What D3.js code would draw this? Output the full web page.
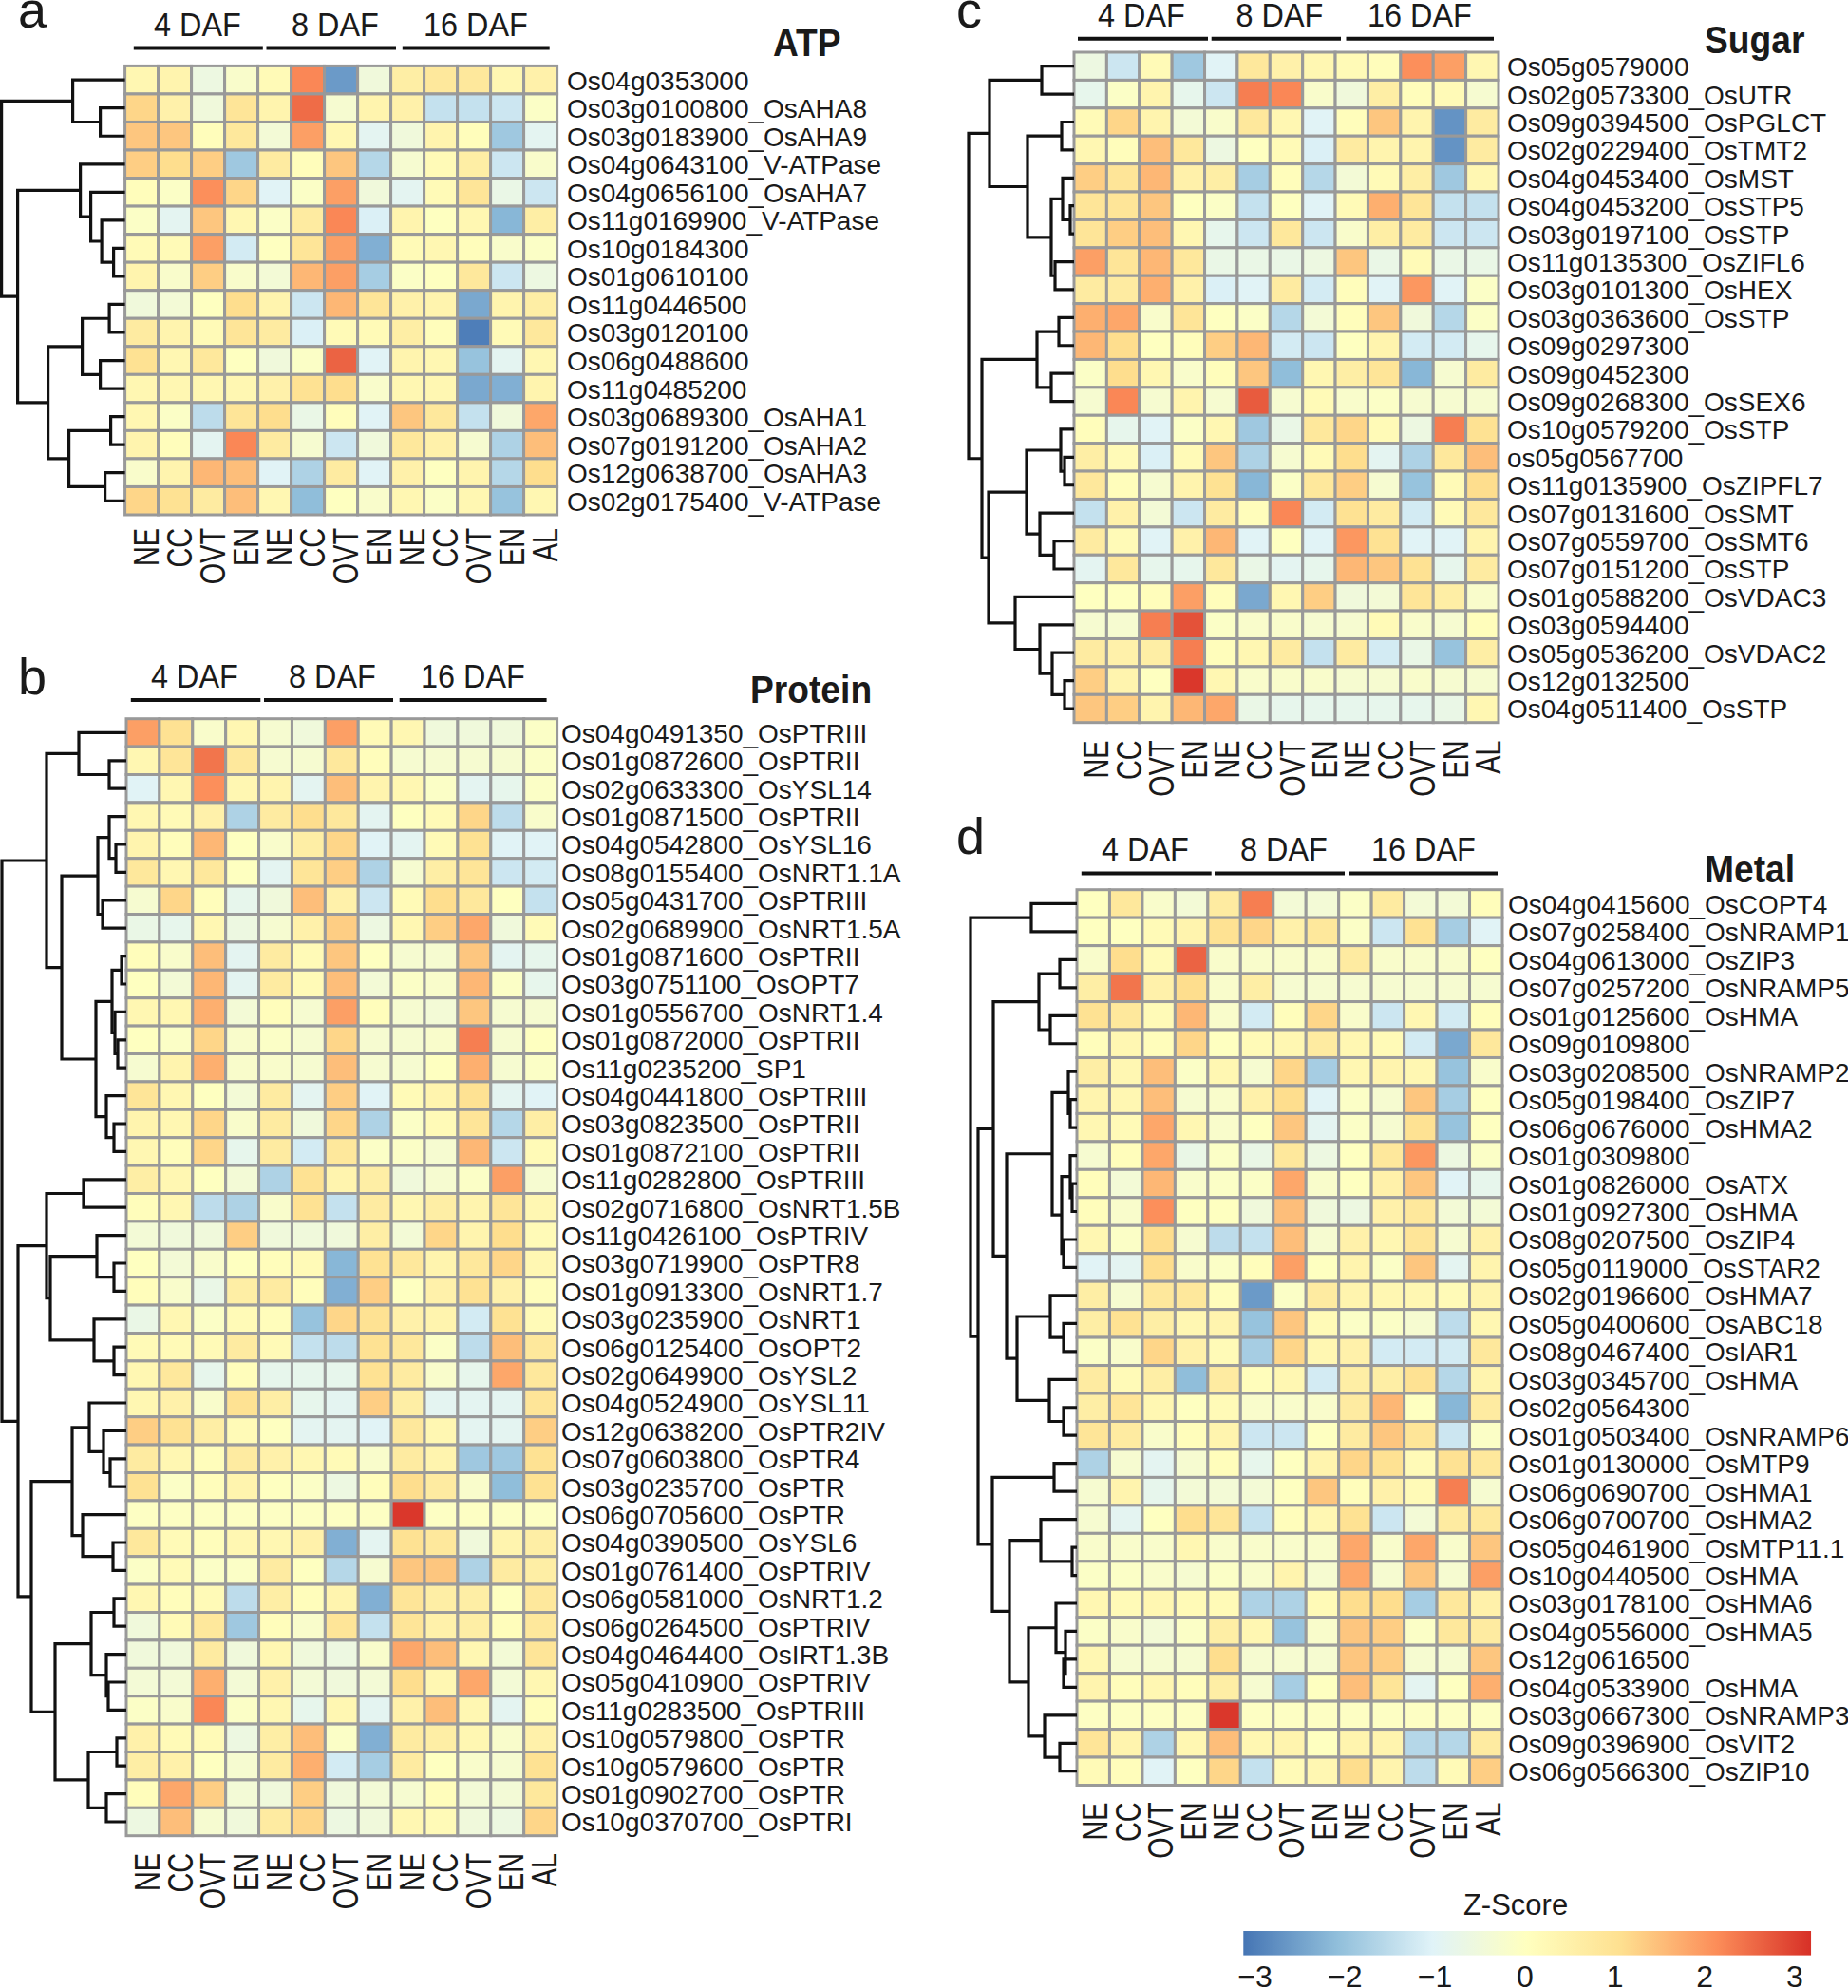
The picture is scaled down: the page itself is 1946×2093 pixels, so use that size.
<!DOCTYPE html>
<html>
<head>
<meta charset="utf-8">
<script src="https://cdn.jsdelivr.net/npm/d3@7"></script>
<style>
  body { margin: 0; background: #fff; }
  text { font-family: "Liberation Sans", Helvetica, Arial, sans-serif; fill: #1a1a1a; }
</style>
</head>
<body>
<svg id="fig" width="1946" height="2093"></svg>
<script>
var tissues = ['NE', 'CC', 'OVT', 'EN', 'NE', 'CC', 'OVT', 'EN', 'NE', 'CC', 'OVT', 'EN', 'AL']
var stages = ['4 DAF', '8 DAF', '16 DAF']
var legendTicks = [-3, -2, -1, 0, 1, 2, 3]
var zStops = [-3.13, -2.08, -1.03, 0.02, 1.07, 2.13, 3.18]
var zColors = ['#4575b4', '#91bfdb', '#e0f3f8', '#ffffbf', '#fee090', '#fc8d59', '#d73027']

var atpGenes = ['Os04g0353000', 'Os03g0100800_OsAHA8', 'Os03g0183900_OsAHA9', 'Os04g0643100_V-ATPase',
  'Os04g0656100_OsAHA7', 'Os11g0169900_V-ATPase', 'Os10g0184300', 'Os01g0610100', 'Os11g0446500',
  'Os03g0120100', 'Os06g0488600', 'Os11g0485200', 'Os03g0689300_OsAHA1', 'Os07g0191200_OsAHA2',
  'Os12g0638700_OsAHA3', 'Os02g0175400_V-ATPase']
var atpValues = [
  [0.3, 0.4, -0.6, -0.2, 0.2, 2.2, -2.6, -0.5, 0.6, 0.8, 0.8, 0.3, 0.5],
  [1.2, 0.5, -0.5, 0.9, 0.4, 2.5, -0.3, 0.4, 0.5, -1.4, -1.4, -1.3, -0.1],
  [1.4, 1.4, 0.1, 0.8, -0.4, 1.9, 0.3, -0.9, -0.5, 0.4, 0.1, -1.9, -0.9],
  [1.3, 1.1, 1.3, -1.9, 0.7, 0.1, 1.4, -1.6, -0.3, 0.2, 0.6, -1.3, -0.2],
  [0.1, -0.1, 2.1, 1.2, -1.0, -0.1, 1.9, -0.5, -0.9, 0.2, 0.9, -0.7, -1.3],
  [-0.1, -0.9, 1.4, 0.3, -0.1, 0.7, 2.2, -1.1, 0.4, 0, 0.3, -2.2, 0.6],
  [0.2, 0.2, 1.9, -1.2, 0, 0.9, 1.9, -2.3, 0.2, 0.3, 0.1, -0.2, -0.1],
  [0.4, -0.2, 1.3, -0.2, -0.4, 1.6, 1.9, -1.8, -0.1, 0, 0.8, -1.3, -0.6],
  [-0.5, -0.4, 0, 1.1, 0.4, -1.3, 1.6, 0.9, 0.5, 0.4, -2.4, 0.4, 0.6],
  [0.7, 0.4, 0.2, 0.9, 0.7, -1.1, 0.2, 0.2, 0.6, 0.1, -3.0, 0.2, 0.8],
  [1.0, 0.3, 0.8, 0, -0.5, -0.1, 2.6, -1.0, 0.4, 0.3, -2.0, -0.9, 0.3],
  [0.3, 0.3, 0.3, 0.3, 0.5, 1.0, 1.1, -0.2, 0.3, 0.3, -2.4, -2.3, 0.4],
  [0.3, -0.1, -1.5, 0.9, 1.1, -0.7, 0.1, -1.0, 1.4, 0.8, -1.4, -0.5, 1.8],
  [0.4, 0.1, -0.9, 2.2, 0.7, -0.3, -1.3, -0.5, 0.8, 0.5, -0.3, -1.7, 1.5],
  [-0.2, 0.4, 1.6, 1.5, -1.0, -1.7, 0.7, -1.0, 0.5, 0, 0.4, -1.6, 1.1],
  [1.2, 1.0, 0.7, 1.5, 0.3, -2.1, 0, -0.2, 0.3, -0.1, 0.3, -2.0, 0.3]
]
// dendrograms: [merge height, left child, right child], 0 is a leaf (next row down)
var atpTree = [130, [55, 0, [26, 0, 0]],
  [113, [47, 0, [36, 0, [24.5, 0, [12, 0, 0]]]],
    [81, [45, [16.5, 0, 0], [26, 0, 0]], [59, [15, 0, 0], [21, 0, 0]]]]]

var proteinGenes = ['Os04g0491350_OsPTRIII', 'Os01g0872600_OsPTRII', 'Os02g0633300_OsYSL14', 'Os01g0871500_OsPTRII',
  'Os04g0542800_OsYSL16', 'Os08g0155400_OsNRT1.1A', 'Os05g0431700_OsPTRIII', 'Os02g0689900_OsNRT1.5A',
  'Os01g0871600_OsPTRII', 'Os03g0751100_OsOPT7', 'Os01g0556700_OsNRT1.4', 'Os01g0872000_OsPTRII',
  'Os11g0235200_SP1', 'Os04g0441800_OsPTRIII', 'Os03g0823500_OsPTRII', 'Os01g0872100_OsPTRII',
  'Os11g0282800_OsPTRIII', 'Os02g0716800_OsNRT1.5B', 'Os11g0426100_OsPTRIV', 'Os03g0719900_OsPTR8',
  'Os01g0913300_OsNRT1.7', 'Os03g0235900_OsNRT1', 'Os06g0125400_OsOPT2', 'Os02g0649900_OsYSL2',
  'Os04g0524900_OsYSL11', 'Os12g0638200_OsPTR2IV', 'Os07g0603800_OsPTR4', 'Os03g0235700_OsPTR',
  'Os06g0705600_OsPTR', 'Os04g0390500_OsYSL6', 'Os01g0761400_OsPTRIV', 'Os06g0581000_OsNRT1.2',
  'Os06g0264500_OsPTRIV', 'Os04g0464400_OsIRT1.3B', 'Os05g0410900_OsPTRIV', 'Os11g0283500_OsPTRIII',
  'Os10g0579800_OsPTR', 'Os10g0579600_OsPTR', 'Os01g0902700_OsPTR', 'Os10g0370700_OsPTRI']
var proteinValues = [
  [1.9, 1.0, -0.2, 0.3, -0.3, -0.5, 1.9, 0.2, 0.3, -0.5, -0.5, -0.5, -0.1],
  [0.3, 0.9, 2.4, 0.8, -0.3, -0.3, 0.8, 0.1, -0.3, -0.3, -0.3, -0.3, -0.1],
  [-1.0, 0.3, 2.1, 0.3, 0.4, -0.9, 1.5, 0.4, 0.3, -0.1, -0.9, -0.8, -0.1],
  [0.3, 0.2, 0.5, -1.7, 0.7, 1.1, 0.8, -0.9, 0, 0.2, 1.2, -1.5, -0.2],
  [0.4, 0.1, 1.6, 0, -0.2, 0.6, 1.2, -1.0, -0.9, 0.2, 1.0, -1.0, -1.0],
  [0.8, 0.3, 0.8, 0, -0.9, 0.9, 1.3, -1.7, -0.3, 0.6, 0.9, -1.3, -1.2],
  [-0.3, 1.2, 0.1, -0.8, -0.5, 1.5, 0.5, -1.3, 0.2, 1.1, 0.8, 0, -1.4],
  [-0.7, -0.8, 0.3, -0.6, -0.3, 0.5, 1.3, -0.6, 0.3, 1.3, 1.8, -0.5, 0.2],
  [0.1, -0.2, 1.5, -0.9, 0.7, 0.2, 1.4, 0, -0.3, -0.3, 1.4, -0.9, -0.8],
  [0, -0.4, 1.6, -0.9, 0.7, 0.2, 1.5, -0.4, -0.1, -0.2, 1.6, -0.1, -0.8],
  [0.3, 0.3, 1.7, -0.4, 0.1, -0.3, 1.9, 0.1, -0.3, -0.4, 1.4, -0.3, -0.3],
  [0, -0.1, 1.2, -0.2, -0.1, -0.3, 1.2, -0.3, -0.3, -0.2, 2.3, -0.3, 0],
  [-0.3, 0.4, 1.7, -0.2, -0.2, -0.3, 1.5, -0.3, -0.3, 0, 1.7, -0.3, -0.1],
  [0.9, 0.3, 0, -0.4, 0.7, -0.9, 1.3, -1.0, 0.2, 0.4, 1.0, -0.9, -1.0],
  [0.4, 0.3, 1.2, -0.2, 0.7, -0.5, 1.2, -1.7, -0.1, 0.2, 0.9, -1.6, 0.6],
  [0.3, 0.1, 1.2, -0.8, 0.7, -1.2, 0.8, -0.1, -0.1, -0.3, 1.6, -1.3, 0.2],
  [0.6, 0.3, 0, -0.4, -1.7, 1.0, 0.4, 0.6, -0.5, -0.3, -0.1, 1.9, -0.3],
  [0.1, 0.3, -1.5, -1.7, -0.2, 1.0, -1.4, 0.7, 0.3, 0.6, 0.4, 0.9, 0.3],
  [-0.4, -0.5, -0.5, 1.3, -0.5, -0.5, -0.5, 0.6, -0.4, 1.2, 0.4, 1.1, 0.2],
  [0, -0.4, -0.2, 0, 0.1, 0.2, -2.2, 1.0, 0.8, 0.4, 0.8, 1.2, 0.3],
  [0.1, -0.2, -0.7, 0.6, 0.7, 0.1, -2.3, 1.3, 0, 0.5, 1.0, 0.5, 0.1],
  [-0.7, 0.3, -0.1, 0.2, 0.1, -2.0, 1.2, 1.0, 0.5, 0.4, -1.2, 1.0, 0.2],
  [0.2, 0.2, 0.2, 0.7, 0.2, -1.4, -1.5, 1.0, 0.8, -0.1, -1.5, 1.5, 0.8],
  [0.3, 0.8, -0.8, 0.1, -0.8, -0.8, -0.8, 1.0, 0.7, -0.2, -0.8, 1.8, 0.8],
  [0.3, 0.5, -0.2, 1.0, 0.6, -0.8, -0.9, 1.3, 0.6, -0.9, -0.9, -0.9, 0.9],
  [1.3, 1.0, 0.6, 0.2, 0, -0.9, -0.9, -1.0, 0.8, 0.3, -0.9, -0.9, 1.3],
  [0.7, 0.3, 0.1, 0.7, 0.5, 0.3, 0.2, -0.2, 0.7, 0.4, -1.9, -1.9, 1.0],
  [1.0, -0.1, 0.1, 0.4, 0, -0.1, -0.6, 0.1, 1.1, 0.7, -0.2, -2.1, 1.0],
  [-0.05, -0.05, -0.05, -0.05, -0.05, -0.05, -0.05, -0.05, 3.1, -0.05, -0.05, -0.05, -0.05],
  [0.8, 0.2, 0.1, 0.3, 0.3, 0.5, -2.3, -0.9, 1.0, 0.8, -0.5, 0.4, 0.6],
  [-0.1, 0.2, -0.1, -0.1, 0.7, 0, -1.6, -0.3, 1.4, 1.4, -1.7, 0.7, 0.6],
  [0.3, 0.1, 0.2, -1.5, 0.6, 0.1, 0.4, -2.3, 0.9, 0.6, 0.6, 0, 0.8],
  [-0.5, 0.2, 0.8, -1.9, 0.1, -0.2, 0.9, -1.4, 0.9, 0.5, 0.6, 0.1, 0.8],
  [-0.5, -0.5, 0.7, -0.5, 0.3, -0.5, -0.6, -0.2, 1.8, 1.5, 0.3, -0.4, 0.9],
  [-0.4, -0.4, 1.7, -0.4, 0.5, -0.4, -0.5, -0.4, 1.1, 0.3, 1.8, -0.4, 0.3],
  [-0.1, -0.2, 2.2, -0.1, 0.3, -0.8, 0.3, -0.9, 0.5, 1.5, 0.3, -0.9, 0.1],
  [0.5, 0.2, 0.2, -0.6, 0.6, 1.5, -0.1, -2.3, 0.7, 0.6, 0.3, -0.2, 0.5],
  [0.6, 0.5, 0, -0.3, 0.7, 1.7, -1.2, -1.8, 0.7, 0, -0.2, -0.3, 1.0],
  [0.1, 1.8, 1.3, -0.4, -0.5, 1.3, -0.5, -0.4, -0.3, 0.1, -0.4, -0.4, 0.8],
  [-0.6, 1.5, -0.3, -0.5, 0.7, 1.2, -0.6, -0.5, 0.3, 0.2, -0.5, -0.6, 1.2]
]
var proteinTree = [131,
  [84, [50, 0, [18, 0, 0]],
    [68, [30, [18, 0, [11, 0, 0]], [25, 0, 0]],
      [32, [15, [5, 0, 0], [12, 0, [9, 0, 0]]], [21, 0, [13, 0, 0]]]]],
  [114,
    [84, [45, 0, 0], [80, [31, 0, [13, 0, 0]], [34, 0, [13, 0, 0]]]],
    [100, [57, [39, 0, [24, 0, [17, 0, 0]]], [46, 0, [14, 0, 0]]],
      [75, [37, [13, 0, 0], [21, 0, [19, 0, 0]]], [40, [10, 0, 0], [21, 0, 0]]]]]]

var sugarGenes = ['Os05g0579000', 'Os02g0573300_OsUTR', 'Os09g0394500_OsPGLCT', 'Os02g0229400_OsTMT2',
  'Os04g0453400_OsMST', 'Os04g0453200_OsSTP5', 'Os03g0197100_OsSTP', 'Os11g0135300_OsZIFL6',
  'Os03g0101300_OsHEX', 'Os03g0363600_OsSTP', 'Os09g0297300', 'Os09g0452300', 'Os09g0268300_OsSEX6',
  'Os10g0579200_OsSTP', 'os05g0567700', 'Os11g0135900_OsZIPFL7', 'Os07g0131600_OsSMT', 'Os07g0559700_OsSMT6',
  'Os07g0151200_OsSTP', 'Os01g0588200_OsVDAC3', 'Os03g0594400', 'Os05g0536200_OsVDAC2', 'Os12g0132500',
  'Os04g0511400_OsSTP']
var sugarValues = [
  [-0.6, -1.3, 0.2, -1.9, -1.0, 0.8, 0.5, 0.3, 0.2, 0.1, 2.1, 1.9, 0.3],
  [-0.8, -0.1, 0.4, -0.8, -1.3, 2.3, 2.2, -0.2, -0.5, 0.6, 0.1, 0.2, -0.3],
  [0.2, 1.2, 0.4, -0.4, -0.2, 0.8, 0.3, -1.0, 0.1, 1.4, 0.4, -2.7, 0.7],
  [0.3, 0.1, 1.5, 0.8, -0.6, 0, 0.2, -1.1, 0.7, 0.4, 0.4, -2.7, 0.7],
  [1.3, 0.9, 1.6, 0.5, 0.6, -1.8, 0.1, -1.6, -0.4, 0.2, 0.6, -1.9, 0.3],
  [0.9, 0.9, 1.4, 0, -0.1, -1.4, 0, -1.0, 0.2, 1.7, 0.9, -1.4, -1.4],
  [0.9, 1.3, 1.5, 0.3, -0.8, -1.3, 0.8, -1.3, -0.2, 0.6, 0.7, -1.3, -1.3],
  [1.9, 0.9, 1.6, 0.8, -0.7, -0.7, -0.7, -0.6, 1.4, -0.7, 0.2, -0.7, -0.7],
  [0.7, 0.7, 1.7, 0.5, -1.1, -1.0, 0.7, -1.2, 0.1, -1.0, 2.0, -1.0, -0.1],
  [1.7, 1.8, -0.2, 0.9, 0, -0.1, -1.6, -0.4, 0.1, 1.4, -0.5, -1.6, -0.1],
  [1.6, 1.1, 0, 0.1, 1.3, 1.6, -1.2, -1.3, 0, 0.4, -1.2, -1.2, -0.8],
  [-0.1, 1.1, 0.3, -0.2, 0.1, 1.4, -2.1, 0.3, 0.6, 0.9, -2.2, -0.3, 0.7],
  [-0.3, 2.2, -0.3, 0.4, -0.3, 2.7, -0.3, 0.2, -0.2, -0.1, -0.3, -0.3, -0.3],
  [0.1, -0.8, -1.0, -0.1, 0.3, -1.9, -0.7, 0.8, 1.2, 0.2, -0.6, 2.3, 1.0],
  [0.6, 0.2, -1.1, 0.2, 1.4, -1.7, -0.3, 0.2, 1.1, -0.9, -1.7, 0.8, 1.5],
  [0.8, 0.1, -0.3, 0.4, 1.0, -2.2, -0.1, 0.8, 1.3, -0.3, -2.0, 0.2, 1.1],
  [-1.4, 0.5, -0.4, -1.3, 0.7, 0.1, 2.2, -1.2, 1.0, 0.7, -1.2, 0.2, 0.8],
  [0.7, 0.2, -1.0, 0.5, 1.6, -1.0, 0, -1.0, 2.0, 1.0, -1.0, -1.0, 0.4],
  [-0.9, 0.8, -0.8, -0.8, 0.8, -0.7, -0.9, -0.8, 1.6, 1.4, 1.0, -0.8, 0.7],
  [0, 0, 0.1, 1.9, 0.1, -2.4, 0.3, 1.3, -0.5, -0.4, 0.9, 0.6, -0.2],
  [-0.3, -0.3, 2.3, 2.8, -0.1, -0.2, -0.2, -0.3, -0.3, 0.2, -0.2, -0.3, 0.1],
  [0.7, 0.5, 0.6, 2.3, 0.1, 0.3, 0.7, -1.4, 0.7, -1.2, -0.7, -2.0, 0.6],
  [1.3, 0.4, 0, 3.1, 0.3, -0.2, -0.2, -0.2, -0.3, -0.3, -0.2, -0.3, -0.3],
  [1.4, 1.3, 0.4, 1.6, 1.8, -0.7, -0.8, -0.8, -0.8, -0.8, -0.8, -0.7, 0.3]
]
var sugarTree = [111,
  [89, [34, 0, 0], [49, [13, 0, 0], [24, [12, 0, [4, 0, 0]], [20, 0, 0]]]],
  [97, [39, [16, 0, 0], [24, 0, 0]],
    [90, [50, [14, 0, [10, 0, 0]], [36, 0, [21, 0, 0]]],
      [62, 0, [36, 0, [23, 0, [10, 0, 0]]]]]]]

var metalGenes = ['Os04g0415600_OsCOPT4', 'Os07g0258400_OsNRAMP1', 'Os04g0613000_OsZIP3', 'Os07g0257200_OsNRAMP5',
  'Os01g0125600_OsHMA', 'Os09g0109800', 'Os03g0208500_OsNRAMP2', 'Os05g0198400_OsZIP7', 'Os06g0676000_OsHMA2',
  'Os01g0309800', 'Os01g0826000_OsATX', 'Os01g0927300_OsHMA', 'Os08g0207500_OsZIP4', 'Os05g0119000_OsSTAR2',
  'Os02g0196600_OsHMA7', 'Os05g0400600_OsABC18', 'Os08g0467400_OsIAR1', 'Os03g0345700_OsHMA', 'Os02g0564300',
  'Os01g0503400_OsNRAMP6', 'Os01g0130000_OsMTP9', 'Os06g0690700_OsHMA1', 'Os06g0700700_OsHMA2',
  'Os05g0461900_OsMTP11.1', 'Os10g0440500_OsHMA', 'Os03g0178100_OsHMA6', 'Os04g0556000_OsHMA5', 'Os12g0616500',
  'Os04g0533900_OsHMA', 'Os03g0667300_OsNRAMP3', 'Os09g0396900_OsVIT2', 'Os06g0566300_OsZIP10']
var metalValues = [
  [0, 0.8, -0.2, -0.4, 0.7, 2.3, -0.4, -0.4, -0.1, 0.7, -0.4, -0.4, 0.1],
  [0, 0, 0.2, 0.4, 1.0, 1.2, 0.5, 0.8, -0.1, -1.3, 1.0, -1.8, -1.0],
  [-0.2, 1.1, 0.2, 2.6, -0.2, -0.2, -0.2, -0.2, 0.7, -0.2, -0.2, -0.2, 0],
  [0.6, 2.4, 0.5, 1.1, -0.2, 0.6, -0.3, -0.3, -0.3, -0.3, -0.3, -0.3, -0.3],
  [1.0, 0.8, 0.2, 1.6, -0.2, -1.2, 0.1, 1.2, -0.2, -1.3, 0.3, -1.2, 0.1],
  [0.1, 0.3, 0.1, 1.2, 0, 0.2, 0.3, 0.7, 0.3, 0.2, -1.2, -2.4, 0.8],
  [0.6, 0.3, 1.5, -0.1, 0.3, -0.3, 1.2, -1.8, 0.3, 0.4, 0.3, -2.0, -0.2],
  [0.4, 0.3, 1.5, -0.3, -0.2, 0.5, 1.1, -1.0, -0.1, -0.3, 1.4, -1.8, 0],
  [0.3, 0.2, 1.8, 0.3, -0.2, 0, 1.4, -0.9, -0.1, -0.3, 1.0, -2.0, 0],
  [-0.3, 0.1, 1.8, -0.7, -0.1, -0.7, 0.8, -0.6, 0, 0.8, 2.0, -0.6, -0.1],
  [0.1, -0.4, 1.6, -0.2, -0.1, -0.1, 1.8, -0.2, 0, 0.5, 1.4, -1.0, -0.8],
  [0.1, -0.2, 2.1, 0, 0, -0.5, 1.5, -0.5, -0.6, 0.5, 0.8, -0.4, -0.4],
  [0.3, -0.1, 1.1, -0.3, -1.5, -1.4, 1.5, -0.3, 0.5, 0.3, 0.9, -0.3, 0.5],
  [-1.0, -0.9, 1.1, -0.2, -0.1, 0.1, 1.9, 0, 0.4, -0.1, 1.4, -0.9, 0.4],
  [0.6, -0.3, 0.8, 0.8, 0.1, -2.6, -0.1, 0.7, 0.4, 0.3, 0.3, 0.2, 0.4],
  [0.6, 1.0, 0.6, 0.3, 0.4, -2.0, 1.4, 0.2, -0.1, -0.1, -0.3, -1.5, 0.3],
  [-0.1, -0.2, 1.2, 0.5, 0.2, -1.8, 1.2, 0.3, 0.5, -1.2, -1.2, -1.2, 0.8],
  [0.7, 0.2, 0.6, -2.1, 0.7, 0.1, 0.3, -1.2, 0.6, 0.6, 1.0, -1.6, 0.4],
  [0.6, 0.9, 0.3, 0, 0.2, -0.2, -0.2, -0.2, 0.7, 1.6, 0, -2.2, 0.7],
  [0.9, 0.7, -0.2, 0.1, 0.4, -1.3, -1.3, 0, 0.7, 1.4, 0.9, -1.3, -0.1],
  [-1.7, -0.3, -0.9, -0.3, 0.1, -0.8, 0, 0.4, 1.2, 1.0, 0.2, 1.0, 0.8],
  [-0.3, 0.4, -0.8, -0.4, -0.4, -0.4, 0, 1.4, 0.1, 0.5, 0.2, 2.3, -0.3],
  [-0.3, -0.9, 0, 1.1, 0.9, -1.4, 0.1, 0.3, 1.0, -1.3, -0.4, 0.7, 0.8],
  [-0.2, -0.2, -0.2, 0.3, -0.2, -0.2, -0.2, -0.2, 1.8, -0.2, 1.8, -0.2, 1.4],
  [-0.1, -0.1, -0.2, -0.3, -0.1, -0.2, 0.4, -0.3, 1.8, -0.3, 1.4, -0.3, 1.9],
  [0.3, 0.2, 0.3, 0.2, 0.2, -1.7, -1.7, 0.2, 1.1, 1.1, -1.8, 0.8, 0.5],
  [-0.1, -0.2, -0.4, -0.1, 0.6, 0.3, -2.0, -0.2, 1.4, 1.3, -0.1, 0.8, 0.7],
  [0.3, -0.3, -0.3, -0.3, 1.1, -0.3, -0.3, -0.3, 1.4, 1.3, -0.3, -0.3, 1.4],
  [0.4, 0.1, 0.3, 0.1, 0.6, -0.3, -1.8, 0, 1.5, 0.9, -0.9, 0, 1.7],
  [-0.05, -0.05, -0.05, -0.05, 3.1, -0.05, -0.05, -0.05, -0.05, -0.05, -0.05, -0.05, -0.05],
  [0.9, 0.4, -1.7, 0.3, 1.5, 0.3, 0.4, 0, 0.4, 0.4, -1.6, -1.6, 0.7],
  [0.2, 0.1, -1.0, 0, 1.2, -1.4, 0.2, 0.3, 1.1, 0.4, -1.5, 0.2, 1.3]
]
var metalTree = [112, [48, 0, 0],
  [104,
    [88, [40, [18, 0, 0], [28, 0, 0]],
      [74, [26, [9, 0, [7, 0, 0]], [16, [7, 0, [5, 0, 0]], [14, 0, 0]]],
        [63, [28, 0, [14, 0, 0]], [29, 0, [14, 0, 0]]]]],
    [89, [24, 0, 0],
      [71, [38, 0, [5, 0, 0]],
        [51, [22, 0, [12, 0, [14, 0, 0]]], [34, 0, [18, 0, 0]]]]]]]

var svg = d3.select('#fig')
var zColor = d3.scaleLinear().domain(zStops).range(zColors).clamp(true)

// The original figure has squeezed headings, so text gets its own x/y stretch
var _stretchText = function(parent, str, x, y, size, sx, weight, anchor) {
  return parent.append('text')
    .attr('transform', 'translate(' + x + ' ' + y + ') scale(' + sx + ' 1)')
    .attr('text-anchor', anchor || 'middle')
    .style('font-size', size + 'px')
    .style('font-weight', weight || 'normal')
    .text(str)
}

var drawPanel = function(p) {
  var g = svg.append('g').attr('class', 'panel')
  var x = d3.scaleBand().domain(d3.range(tissues.length)).range([p.left, p.right])
  var y = d3.scaleBand().domain(p.genes).range([p.top, p.bottom])

  // Cells
  p.values.forEach(function(row, i) {
    g.append('g').selectAll('rect')
      .data(row).enter().append('rect')
      .attr('x', function(v, j) { return x(j) })
      .attr('y', y(p.genes[i]))
      .attr('width', x.bandwidth())
      .attr('height', y.bandwidth())
      .attr('fill', function(v) { return zColor(v) })
      .attr('stroke', '#999999')
      .attr('stroke-width', 3)
  })

  // Gene labels
  g.append('g')
    .attr('transform', 'translate(' + p.labelX + ' 1.5)')
    .call(d3.axisRight(y).tickSize(0).tickPadding(0))
    .call(function(a) { a.select('.domain').remove() })
    .selectAll('text')
    .style('font-family', '"Liberation Sans", Helvetica, Arial, sans-serif')
    .style('font-size', '28px')

  // Tissue labels, rotated and wider across the glyphs like the original
  g.append('g').selectAll('text')
    .data(tissues).enter().append('text')
    .attr('transform', function(t, j) {
      return 'translate(' + (x(j) + x.bandwidth() / 2 + p.tissueShift) + ' ' + p.tissueTop + ') rotate(-90) scale(1 1.27)'
    })
    .attr('text-anchor', 'end')
    .attr('dy', '0.36em')
    .style('font-size', '28.8px')
    .text(function(t) { return t })

  // Stage headers
  stages.forEach(function(s, i) {
    _stretchText(g, s, p.stageX[i], p.stageY, 36, 0.9)
    g.append('line')
      .attr('x1', p.stageLines[i][0]).attr('x2', p.stageLines[i][1])
      .attr('y1', p.stageLineY).attr('y2', p.stageLineY)
      .attr('stroke', '#111').attr('stroke-width', 4)
  })

  _stretchText(g, p.title, p.titleX, p.titleY, 40, 0.93, 'bold', 'start')
  g.append('text').attr('x', p.letterX).attr('y', p.letterY)
    .style('font-size', '54px').text(p.letter)

  // Dendrogram
  var root = d3.hierarchy(p.tree, function(d) { return Array.isArray(d) ? d.slice(1) : null })
  var dist = d3.scaleLinear().domain([0, p.tree[0]]).range([p.left, p.left - p.tree[0]])
  root.leaves().forEach(function(leaf, i) {
    leaf.yPos = y(p.genes[i]) + y.bandwidth() / 2
    leaf.xPos = dist(0)
  })
  root.eachAfter(function(node) {
    if (!node.children) return
    node.yPos = d3.mean(node.children, function(c) { return c.yPos })
    node.xPos = dist(node.data[0])
  })
  var links = root.descendants().filter(function(n) { return n.children })
  g.append('g').selectAll('path')
    .data(links).enter().append('path')
    .attr('fill', 'none')
    .attr('stroke', '#111')
    .attr('stroke-width', 3.2)
    .attr('d', function(n) {
      var a = n.children[0], b = n.children[1]
      return 'M' + a.xPos + ',' + a.yPos + 'H' + n.xPos + 'V' + b.yPos + 'H' + b.xPos
    })
}

drawPanel({ letter: 'a', title: 'ATP', genes: atpGenes, values: atpValues, tree: atpTree,
  left: 131.6, right: 586.6, top: 69.4, bottom: 542, labelX: 597, tissueTop: 556, tissueShift: 5,
  stageX: [208, 353, 501], stageY: 38, stageLineY: 50.6,
  stageLines: [[140.8, 276.8], [280.5, 417], [423.8, 578.7]],
  titleX: 814, titleY: 59, letterX: 19, letterY: 28.6 })

drawPanel({ letter: 'b', title: 'Protein', genes: proteinGenes, values: proteinValues, tree: proteinTree,
  left: 133, right: 586.6, top: 756.7, bottom: 1932.7, labelX: 591, tissueTop: 1951, tissueShift: 4,
  stageX: [205, 350, 498], stageY: 723.7, stageLineY: 737,
  stageLines: [[137.8, 274.3], [278, 414], [420.7, 575.6]],
  titleX: 790, titleY: 740, letterX: 19, letterY: 731 })

drawPanel({ letter: 'c', title: 'Sugar', genes: sugarGenes, values: sugarValues, tree: sugarTree,
  left: 1131, right: 1578, top: 55, bottom: 760.7, labelX: 1587, tissueTop: 779.5, tissueShift: 6,
  stageX: [1202, 1347.5, 1495], stageY: 28, stageLineY: 40.7,
  stageLines: [[1135, 1272], [1275.7, 1412], [1417.5, 1573]],
  titleX: 1795, titleY: 56, letterX: 1007, letterY: 29 })

drawPanel({ letter: 'd', title: 'Metal', genes: metalGenes, values: metalValues, tree: metalTree,
  left: 1134, right: 1582, top: 936.7, bottom: 1879.5, labelX: 1588, tissueTop: 1897.5, tissueShift: 2,
  stageX: [1206, 1352, 1499], stageY: 906, stageLineY: 919.6,
  stageLines: [[1138.8, 1275.7], [1279, 1416], [1421, 1577]],
  titleX: 1795, titleY: 928.6, letterX: 1007, letterY: 899 })

// Z-Score colour key
var legendX = d3.scaleLinear().domain([-3, 3]).range([1321.6, 1890])
var grad = svg.append('defs').append('linearGradient').attr('id', 'zRamp')
zStops.forEach(function(s, i) {
  grad.append('stop')
    .attr('offset', (s - zStops[0]) / (zStops[zStops.length - 1] - zStops[0]))
    .attr('stop-color', zColors[i])
})
svg.append('rect')
  .attr('x', legendX(zStops[0])).attr('y', 2033)
  .attr('width', legendX(zStops[zStops.length - 1]) - legendX(zStops[0])).attr('height', 25.6)
  .attr('fill', 'url(#zRamp)')

_stretchText(svg, 'Z-Score', 1596, 2016, 31, 1)

svg.append('g')
  .attr('transform', 'translate(0 2092)')
  .selectAll('text')
  .data(legendTicks).enter().append('text')
  .attr('x', function(t) { return legendX(t) })
  .attr('text-anchor', 'middle')
  .style('font-size', '32px')
  .text(function(t) { return t < 0 ? '\u2212' + Math.abs(t) : t })
</script>
</body>
</html>
